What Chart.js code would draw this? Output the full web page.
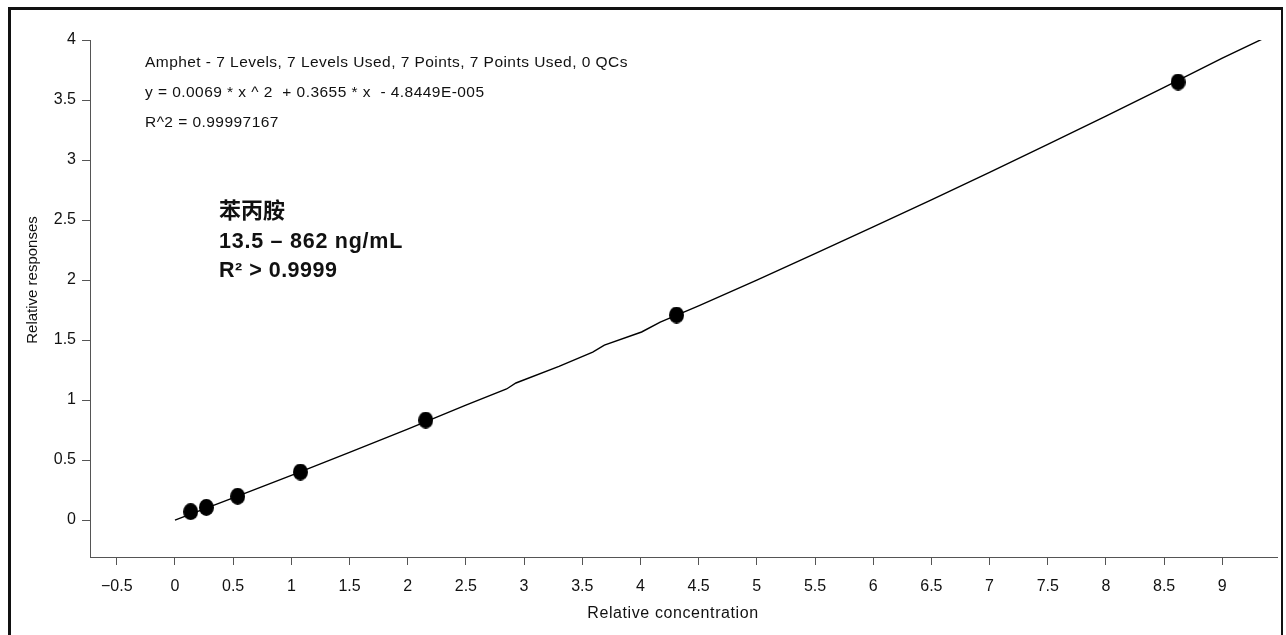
<!DOCTYPE html>
<html>
<head>
<meta charset="utf-8">
<title>Amphet calibration curve</title>
<script src="https://cdn.jsdelivr.net/npm/chart.js@4/dist/chart.umd.min.js"></script>
<style>
  html, body { margin: 0; padding: 0; background: #fff; }
  #wrap { position: relative; width: 1286px; height: 635px; overflow: hidden; }
  canvas { display: block; }
  #frame {
    position: absolute; left: 8px; top: 7px; width: 1270px; height: 700px;
    border-top: 3px solid #111; border-left: 3px solid #111; border-right: 2px solid #111;
    pointer-events: none;
  }
</style>
</head>
<body>
<div id="wrap">
  <canvas id="cal" width="1286" height="635"></canvas>
  <div id="frame"></div>
</div>
<script>
// Calibration levels (relative concentration) and measured relative responses
const concLevels   = [0.135, 0.27, 0.539, 1.078, 2.155, 4.31, 8.62];
const relResponses = [0.07, 0.105, 0.198, 0.40, 0.833, 1.708, 3.65];

// Fitted quadratic calibration curve, traced as a polyline
const fitX = [0, 0.5, 1.0, 1.5, 2.0, 2.5, 2.85, 2.93, 3.3, 3.59, 3.69, 4.01, 4.17, 4.5,
              5.0, 5.5, 6.0, 6.5, 7.0, 7.5, 8.0, 8.5, 9.0, 9.37];
const fitY = [0, 0.185, 0.372, 0.563, 0.757, 0.957, 1.092, 1.142, 1.28, 1.40, 1.458, 1.567, 1.65, 1.785,
              2.0, 2.22, 2.443, 2.668, 2.897, 3.13, 3.366, 3.605, 3.849, 4.02];

// Axis tick labels
const xTickValues = [-0.5, 0, 0.5, 1, 1.5, 2, 2.5, 3, 3.5, 4, 4.5, 5, 5.5, 6, 6.5, 7, 7.5, 8, 8.5, 9];
const yTickValues = [0, 0.5, 1, 1.5, 2, 2.5, 3, 3.5, 4];

// Axis titles and annotation text
const xTitle = 'Relative concentration';
const yTitle = 'Relative responses';
const fitInfoLines = [
  'Amphet - 7 Levels, 7 Levels Used, 7 Points, 7 Points Used, 0 QCs',
  'y = 0.0069 * x ^ 2  + 0.3655 * x  - 4.8449E-005',
  'R^2 = 0.99997167'
];
const compoundLines = ['苯丙胺', '13.5 – 862 ng/mL', 'R² > 0.9999'];

const LATIN = "'Liberation Sans', Arial, sans-serif";
const CJK = "'Noto Sans CJK SC', 'Noto Sans CJK JP', sans-serif";
const INK = '#111';
const AXIS = '#555';

function ellipseMarker(w, h) {
  const c = document.createElement('canvas');
  c.width = w; c.height = h;
  const g = c.getContext('2d');
  g.fillStyle = '#000';
  g.beginPath();
  g.ellipse(w / 2, h / 2, w / 2, h / 2, 0, 0, Math.PI * 2);
  g.fill();
  return c;
}

function fmtTick(v) {
  const s = String(Math.round(v * 10) / 10);
  return v < 0 ? '\u2212' + s.slice(1) : s;
}

// Axis titles, fit summary and compound label drawn on top of the plot
const annotations = {
  id: 'annotations',
  afterDraw(chart) {
    const ctx = chart.ctx;
    ctx.save();
    ctx.fillStyle = INK;

    // axis titles
    ctx.textAlign = 'center';
    ctx.textBaseline = 'middle';
    ctx.font = '16px ' + LATIN;
    ctx.letterSpacing = '0.6px';
    ctx.fillText(xTitle, 673, 614);
    ctx.letterSpacing = '0px';
    ctx.save();
    ctx.translate(33, 280);
    ctx.rotate(-Math.PI / 2);
    ctx.font = '15px ' + LATIN;
    ctx.fillText(yTitle, 0, 0);
    ctx.restore();

    // fit summary
    ctx.textAlign = 'left';
    ctx.textBaseline = 'alphabetic';
    ctx.font = '15.5px ' + LATIN;
    ctx.letterSpacing = '0.45px';
    const infoBase = [67, 97, 127];
    fitInfoLines.forEach((t, i) => ctx.fillText(t, 145, infoBase[i]));

    // compound label
    ctx.letterSpacing = '0px';
    ctx.font = 'bold 22px ' + CJK;
    ctx.fillText(compoundLines[0], 219, 218);
    ctx.font = 'bold 21.5px ' + LATIN;
    ctx.letterSpacing = '0.75px';
    ctx.fillText(compoundLines[1], 219, 248);
    ctx.letterSpacing = '0.5px';
    ctx.fillText(compoundLines[2], 219, 277);
    ctx.restore();
  }
};

const fitData = fitX.map((x, i) => ({ x, y: fitY[i] }));
const pointData = concLevels.map((x, i) => ({ x, y: relResponses[i] }));

new Chart(document.getElementById('cal'), {
  type: 'scatter',
  data: {
    datasets: [
      {
        label: 'Calibration points',
        data: pointData,
        pointStyle: ellipseMarker(15, 17),
        pointRadius: 8,
        order: 1
      },
      {
        label: 'Fit',
        type: 'line',
        data: fitData,
        showLine: true,
        borderColor: '#000',
        borderWidth: 1.4,
        pointRadius: 0,
        tension: 0,
        fill: false,
        order: 2
      }
    ]
  },
  options: {
    responsive: false,
    animation: false,
    devicePixelRatio: 1,
    layout: { padding: { left: 0, right: 9, top: 40, bottom: 0 } },
    plugins: {
      legend: { display: false },
      tooltip: { enabled: false }
    },
    scales: {
      x: {
        type: 'linear',
        min: -0.73,
        max: 9.47,
        afterBuildTicks: s => { s.ticks = xTickValues.map(v => ({ value: v })); },
        afterFit: s => { s.height = 78; },
        ticks: {
          callback: v => fmtTick(v),
          color: INK,
          font: { family: LATIN, size: 16 },
          padding: 12,
          maxRotation: 0,
          autoSkip: false
        },
        grid: { drawOnChartArea: false, drawTicks: true, tickLength: 8, color: AXIS, lineWidth: 1 },
        border: { display: true, color: AXIS, width: 1 },
        title: { display: false }
      },
      y: {
        type: 'linear',
        min: -0.308,
        max: 4.0,
        afterBuildTicks: s => { s.ticks = yTickValues.map(v => ({ value: v })); },
        afterFit: s => { s.width = 90; },
        ticks: {
          callback: v => fmtTick(v),
          color: INK,
          font: { family: LATIN, size: 16 },
          padding: 6,
          autoSkip: false
        },
        grid: { drawOnChartArea: false, drawTicks: true, tickLength: 8, color: AXIS, lineWidth: 1 },
        border: { display: true, color: AXIS, width: 1 },
        title: { display: false }
      }
    }
  },
  plugins: [annotations]
});
</script>
</body>
</html>
